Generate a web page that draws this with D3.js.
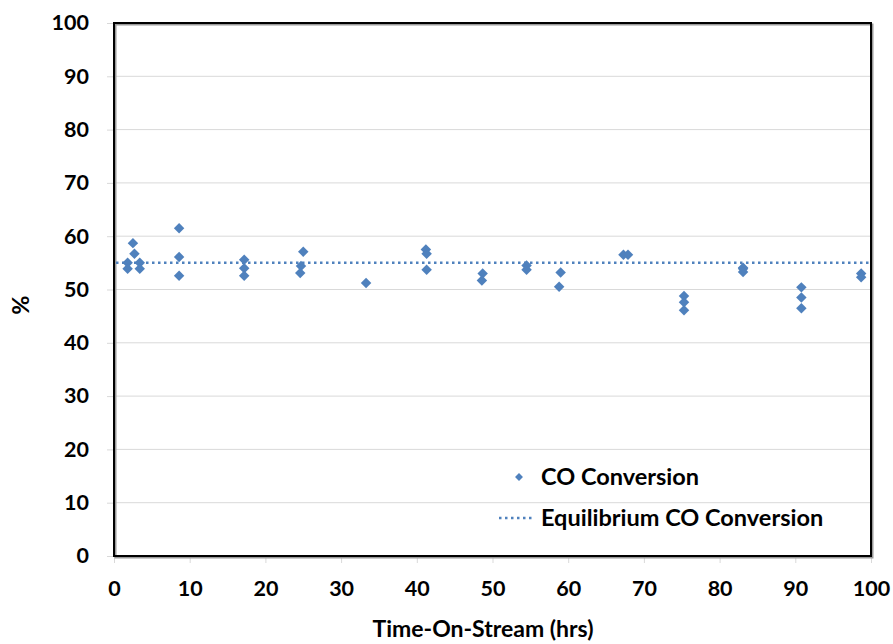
<!DOCTYPE html>
<html>
<head>
<meta charset="utf-8">
<script src="https://cdn.jsdelivr.net/npm/d3@7"></script>
<style>
  html, body { margin: 0; padding: 0; background: #fff; }
  text { font-family: Lato, "Open Sans", sans-serif; font-weight: 700; fill: #000; }
</style>
</head>
<body>
<svg id="chart" width="893" height="644"></svg>
<script>
// Time-on-stream (hrs) and measured CO conversion (%)
const timeHrs = [1.8, 1.8, 2.5, 2.7, 3.4, 3.4, 8.6, 8.6, 8.6, 17.2, 17.2, 17.2,
  25.0, 24.7, 24.6, 33.3, 41.2, 41.3, 41.3, 48.7, 48.6, 54.5, 54.5,
  59.0, 58.8, 67.3, 67.9, 75.3, 75.3, 75.3, 83.1, 83.1, 83.1,
  90.8, 90.8, 90.8, 98.7, 98.7];
const coConversion = [55.0, 53.9, 58.7, 56.7, 55.0, 53.9, 61.5, 56.1, 52.6, 55.6, 54.0, 52.6,
  57.1, 54.4, 53.1, 51.2, 57.5, 56.7, 53.7, 53.0, 51.7, 54.5, 53.7,
  53.2, 50.5, 56.5, 56.5, 48.8, 47.6, 46.1, 54.1, 53.9, 53.3,
  50.4, 48.5, 46.5, 53.0, 52.3];
const equilibriumCO = 55.0;
const xTicks = [0, 10, 20, 30, 40, 50, 60, 70, 80, 90, 100];
const yTicks = [0, 10, 20, 30, 40, 50, 60, 70, 80, 90, 100];
const seriesNames = ["CO Conversion", "Equilibrium CO Conversion"];

const blue = "#4f81bd";
const svg = d3.select("#chart");
const plotL = 114, plotR = 871, plotT = 23, plotB = 556;

const x = d3.scaleLinear().domain([0, 100]).range([plotL, plotR]);
const y = d3.scaleLinear().domain([0, 100]).range([plotB, plotT]);

// horizontal gridlines
svg.append("g").selectAll("line").data(yTicks.filter(d => d > 0)).join("line")
  .attr("x1", plotL).attr("x2", plotR)
  .attr("y1", d => y(d)).attr("y2", d => y(d))
  .attr("stroke", "#d9d9d9").attr("stroke-width", 1);

// axes with outward tick marks
const yAxis = svg.append("g").attr("transform", `translate(${plotL},0)`)
  .call(d3.axisLeft(y).tickValues(yTicks).tickSize(7).tickPadding(18).tickFormat(d3.format("d")));
const xAxis = svg.append("g").attr("transform", `translate(0,${plotB})`)
  .call(d3.axisBottom(x).tickValues(xTicks).tickSize(7).tickPadding(18).tickFormat(d3.format("d")));
[yAxis, xAxis].forEach(a => {
  a.select(".domain").remove();
  a.selectAll(".tick line").attr("stroke", "#d9d9d9");
  a.selectAll(".tick text").style("font-size", "21.5px").style("font-family", "Lato, sans-serif").style("font-weight", 700).attr("fill", "#000");
});

// plot frame with soft shadow
svg.append("rect").attr("x", plotL + 1.5).attr("y", plotT + 1.5)
  .attr("width", plotR - plotL).attr("height", plotB - plotT)
  .attr("fill", "none").attr("stroke", "#9a9a9a").attr("stroke-width", 2);
svg.append("rect").attr("x", plotL).attr("y", plotT)
  .attr("width", plotR - plotL).attr("height", plotB - plotT)
  .attr("fill", "none").attr("stroke", "#000").attr("stroke-width", 2);

// equilibrium conversion line
svg.append("line")
  .attr("x1", plotL + 2).attr("x2", plotR - 2)
  .attr("y1", y(equilibriumCO)).attr("y2", y(equilibriumCO))
  .attr("stroke", blue).attr("stroke-width", 2.5)
  .attr("stroke-dasharray", "2.5 3.5");

// measured points
const diamond = d3.symbol().type(d3.symbolDiamond2).size(70);
svg.append("g").selectAll("path").data(timeHrs.map((t, i) => [t, coConversion[i]])).join("path")
  .attr("d", diamond)
  .attr("transform", d => `translate(${x(d[0])},${y(d[1])})`)
  .attr("fill", blue);

// legend
const lg = svg.append("g");
lg.append("path").attr("d", d3.symbol().type(d3.symbolDiamond2).size(40))
  .attr("transform", "translate(519,477)").attr("fill", blue);
lg.append("line").attr("x1", 499).attr("x2", 534).attr("y1", 518).attr("y2", 518)
  .attr("stroke", blue).attr("stroke-width", 2.5).attr("stroke-dasharray", "2.5 3.5");
lg.append("text").attr("x", 541).attr("y", 485).style("font-size", "23.5px").text(seriesNames[0]);
lg.append("text").attr("x", 541).attr("y", 526).style("font-size", "23.5px").text(seriesNames[1]);

// axis titles
svg.append("text").attr("x", 483).attr("y", 637).attr("text-anchor", "middle")
  .style("font-size", "23px").text("Time-On-Stream (hrs)");
svg.append("text").attr("transform", "translate(29,305) rotate(-90)").attr("text-anchor", "middle")
  .style("font-size", "23.5px").text("%");
</script>
</body>
</html>
